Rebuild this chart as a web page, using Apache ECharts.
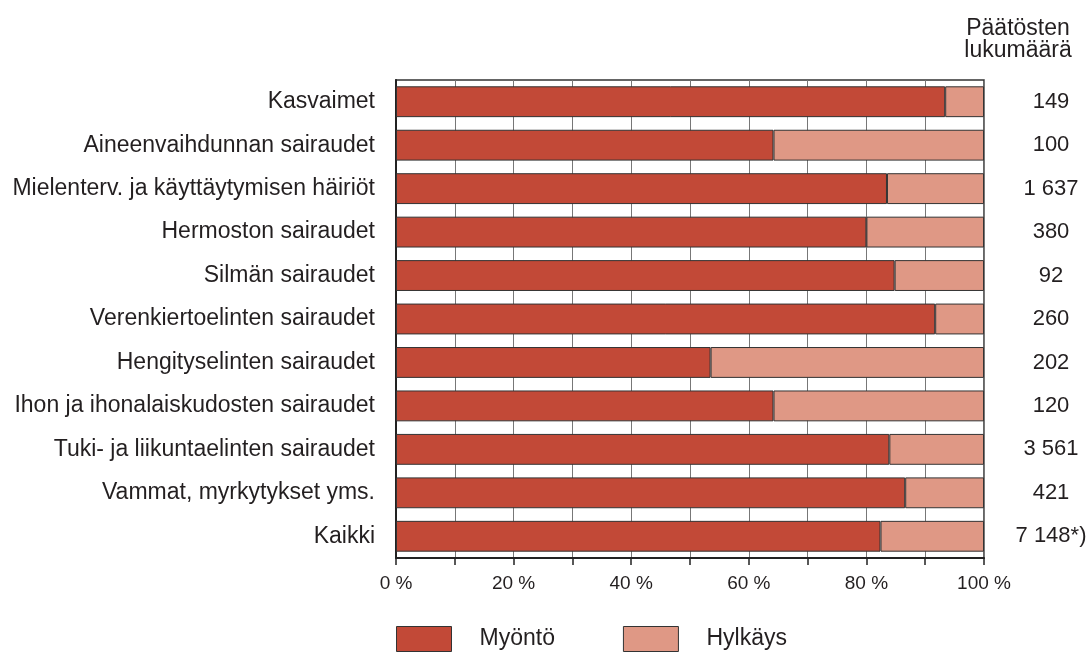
<!DOCTYPE html>
<html>
<head>
<meta charset="utf-8">
<script src="https://cdn.jsdelivr.net/npm/echarts@6/dist/echarts.min.js"></script>
<style>html,body{margin:0;padding:0;background:#fff}#c{width:1091px;height:653px}</style>
</head>
<body>
<div id="c"></div>
<script>
const categories = ['Kasvaimet','Aineenvaihdunnan sairaudet','Mielenterv. ja käyttäytymisen häiriöt','Hermoston sairaudet','Silmän sairaudet','Verenkiertoelinten sairaudet','Hengityselinten sairaudet','Ihon ja ihonalaiskudosten sairaudet','Tuki- ja liikuntaelinten sairaudet','Vammat, myrkytykset yms.','Kaikki'];
const myonto = [93.4, 64.2, 83.5, 80.0, 84.8, 91.7, 53.5, 64.2, 83.9, 86.6, 82.4];
const hylkays = [6.6, 35.8, 16.5, 20.0, 15.2, 8.3, 46.5, 35.8, 16.1, 13.4, 17.6];
const counts = ['149','100','1 637','380','92','260','202','120','3 561','421','7 148*)'];
const seriesNames = ['Myöntö','Hylkäys'];
const headerLines = ['Päätösten','lukumäärä'];

const FONT = 'Liberation Sans, Arial, sans-serif';
const TXT = '#231f20';
const chart = echarts.init(document.getElementById('c'));
chart.setOption({
  animation: false,
  backgroundColor: '#fff',
  textStyle: {fontFamily: FONT, color: TXT},
  graphic: headerLines.map((t, i) => ({
    type: 'text', x: 1018, y: 29 + i * 22,
    style: {text: t, fontFamily: FONT, fontSize: 23, fill: TXT, align: 'center', verticalAlign: 'middle'}
  })),
  legend: {
    data: seriesNames, left: 396, top: 626,
    itemWidth: 55, itemHeight: 25, itemGap: 68, padding: 0,
    icon: 'rect',
    itemStyle: {borderColor: '#333', borderWidth: 1},
    textStyle: {fontFamily: FONT, fontSize: 23, color: TXT, padding: [0,0,0,23]}
  },
  grid: {left: 396, right: 107, top: 80, bottom: 95, show: true, borderColor: '#333', borderWidth: 1.5, outerBoundsMode: 'none', containLabel: false},
  xAxis: {
    type: 'value', min: 0, max: 100, interval: 10,
    axisLine: {show: true, lineStyle: {color: '#222', width: 2}},
    axisTick: {show: true, length: 7, lineStyle: {color: '#222', width: 1.5}},
    splitLine: {show: true, lineStyle: {color: '#777', width: 1}},
    axisLabel: {
      fontFamily: FONT, fontSize: 19, color: TXT, margin: 16,
      formatter: v => (v % 20 === 0 ? v + ' %' : '')
    }
  },
  yAxis: [{
    type: 'category', data: categories, inverse: true,
    axisLine: {show: true, lineStyle: {color: '#222', width: 2}},
    axisTick: {show: false},
    axisLabel: {fontFamily: FONT, fontSize: 23, color: TXT, margin: 21}
  }, {
    type: 'category', inverse: true, position: 'right', data: counts,
    axisLine: {show: false}, axisTick: {show: false},
    axisLabel: {fontFamily: FONT, fontSize: 22, color: TXT, margin: 67, align: 'center'}
  }],
  series: [{
    name: seriesNames[0], type: 'bar', stack: 's', data: myonto, barCategoryGap: '29%',
    itemStyle: {color: '#c24937', borderColor: '#333', borderWidth: 1}
  }, {
    name: seriesNames[1], type: 'bar', stack: 's', data: hylkays, barCategoryGap: '29%',
    itemStyle: {color: '#df9885', borderColor: '#333', borderWidth: 1}
  }]
});
</script>
</body>
</html>
